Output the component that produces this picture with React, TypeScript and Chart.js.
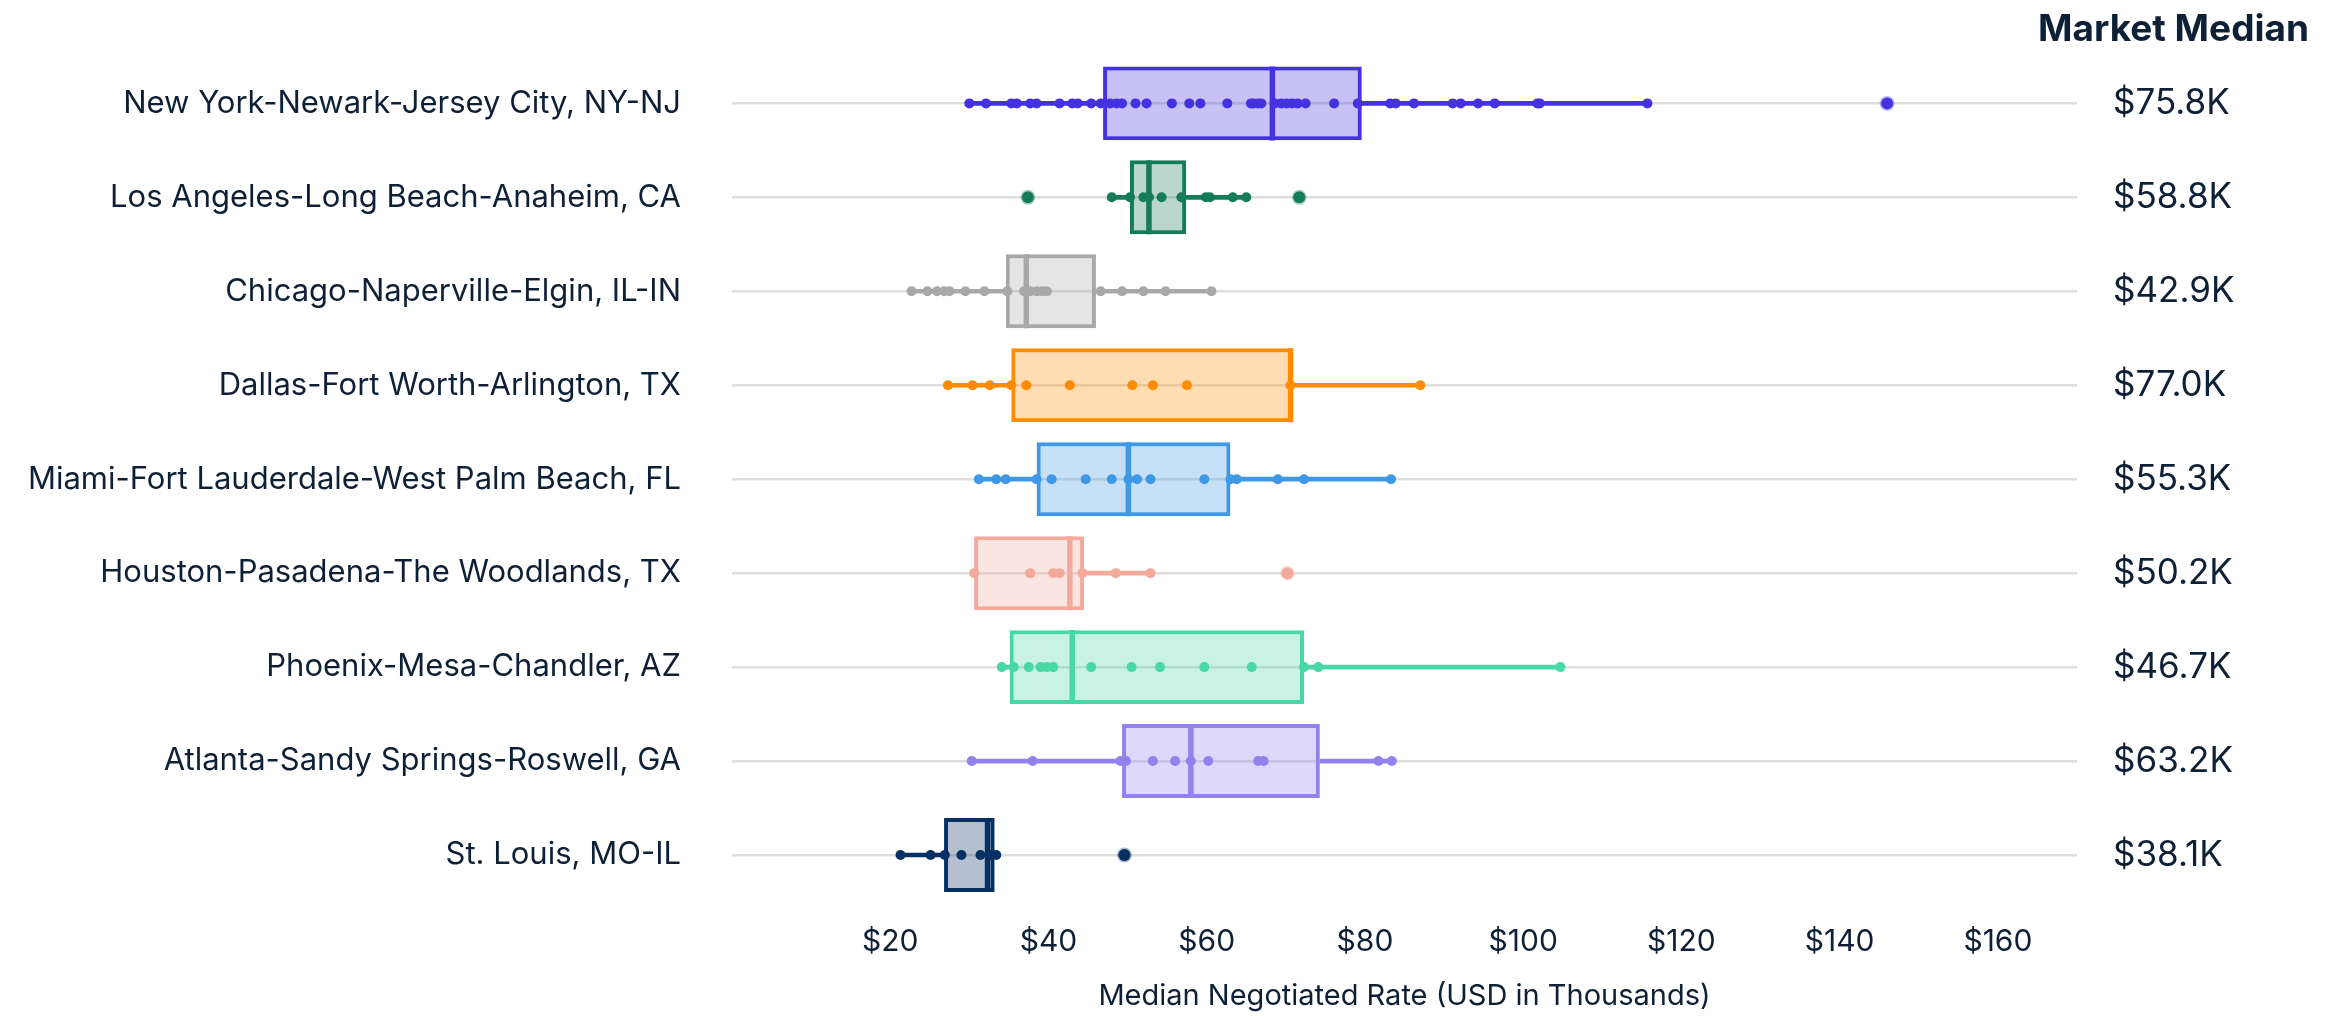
import React, { useEffect, useRef } from 'react';
import { Chart, registerables } from 'chart.js';

Chart.register(...registerables);

const categories = [
  'New York-Newark-Jersey City, NY-NJ',
  'Los Angeles-Long Beach-Anaheim, CA',
  'Chicago-Naperville-Elgin, IL-IN',
  'Dallas-Fort Worth-Arlington, TX',
  'Miami-Fort Lauderdale-West Palm Beach, FL',
  'Houston-Pasadena-The Woodlands, TX',
  'Phoenix-Mesa-Chandler, AZ',
  'Atlanta-Sandy Springs-Roswell, GA',
  'St. Louis, MO-IL',
];

const marketMedians = ['$75.8K', '$58.8K', '$42.9K', '$77.0K', '$55.3K', '$50.2K', '$46.7K', '$63.2K', '$38.1K'];

const whiskerLow = [30.0, 48.0, 22.7, 27.3, 31.2, 30.6, 34.1, 30.3, 21.3];
const q1 = [46.9, 50.3, 34.6, 35.3, 38.5, 30.6, 35.1, 49.3, 26.8];
const medians = [68.3, 52.7, 37.2, 70.6, 50.1, 42.7, 43.0, 58.0, 32.3];
const q3 = [79.6, 57.4, 46.0, 70.8, 63.0, 44.5, 72.3, 74.3, 33.2];
const whiskerHigh = [115.7, 65.0, 60.6, 87.0, 83.3, 52.9, 104.7, 83.4, 33.4];

const nyPoints = [30.0, 32.1, 35.3, 36.0, 37.7, 38.5, 41.4, 43.0, 43.7, 45.4, 46.6, 47.8, 48.6, 49.3, 51.0, 52.4, 55.6, 57.8, 59.2, 62.6, 65.6, 65.9, 66.5, 66.9, 68.6, 69.4, 70.1, 70.8, 71.5, 72.5, 76.1, 79.1, 83.2, 83.9, 86.2, 91.1, 92.1, 94.3, 96.4, 101.8, 102.1, 115.7];
const laPoints = [48.0, 50.3, 52.0, 52.7, 54.3, 56.8, 59.9, 60.4, 63.3, 65.0];
const chicagoPoints = [22.7, 24.7, 25.9, 26.8, 27.5, 29.5, 31.9, 34.8, 36.9, 37.7, 38.5, 39.2, 39.8, 46.6, 49.3, 52.0, 54.8, 60.6];
const dallasPoints = [27.3, 30.4, 32.6, 35.3, 37.2, 42.7, 50.6, 53.2, 57.5, 70.6, 87.0];
const miamiPoints = [31.2, 33.4, 34.6, 38.5, 40.4, 44.7, 48.0, 50.1, 51.2, 52.9, 59.7, 63.0, 63.8, 69.0, 72.3, 83.3];
const houstonPoints = [30.6, 37.7, 40.6, 41.4, 44.3, 48.5, 52.9];
const phoenixPoints = [34.1, 35.6, 37.5, 39.0, 39.8, 40.6, 45.4, 50.5, 54.1, 59.7, 65.7, 72.3, 74.1, 104.7];
const atlantaPoints = [30.3, 38.0, 49.1, 49.8, 53.2, 56.0, 58.0, 60.2, 66.5, 67.2, 81.7, 83.4];
const stLouisPoints = [21.3, 25.1, 26.9, 29.0, 31.4, 32.7, 33.4];

const pointsByRow = [nyPoints, laPoints, chicagoPoints, dallasPoints, miamiPoints, houstonPoints, phoenixPoints, atlantaPoints, stLouisPoints];

const nyOutliers = [146.0];
const laOutliers = [37.4, 71.7];
const chicagoOutliers: number[] = [];
const dallasOutliers: number[] = [];
const miamiOutliers: number[] = [];
const houstonOutliers = [70.2];
const phoenixOutliers: number[] = [];
const atlantaOutliers: number[] = [];
const stLouisOutliers = [49.6];

const outliersByRow = [nyOutliers, laOutliers, chicagoOutliers, dallasOutliers, miamiOutliers, houstonOutliers, phoenixOutliers, atlantaOutliers, stLouisOutliers];

const xTicks = [20, 40, 60, 80, 100, 120, 140, 160];
const xTitle = 'Median Negotiated Rate (USD in Thousands)';
const rightTitle = 'Market Median';

const lineColors = ['#4432e2', '#167c58', '#a8a8a8', '#ff8c00', '#3e98e4', '#f3aa9b', '#48d8a5', '#9282ee', '#062f62'];

function withAlpha(hex: string, a: number) {
  const r = parseInt(hex.slice(1, 3), 16);
  const g = parseInt(hex.slice(3, 5), 16);
  const b = parseInt(hex.slice(5, 7), 16);
  return `rgba(${r},${g},${b},${a})`;
}

const FONT = 'Inter, "Noto Sans", "DejaVu Sans", sans-serif';
const TEXT = '#0d2036';

const noPad = (scale: any) => {
  scale.paddingTop = 0;
  scale.paddingBottom = 0;
  scale.paddingLeft = 0;
  scale.paddingRight = 0;
};

export default function App() {
  const ref = useRef<HTMLCanvasElement>(null);

  useEffect(() => {
    if (!ref.current) return;
    const fillColors = lineColors.map((c) => withAlpha(c, 0.3));

    const pts: { x: number; y: string }[] = [];
    const ptColors: string[] = [];
    pointsByRow.forEach((arr, i) => arr.forEach((v) => { pts.push({ x: v, y: categories[i] }); ptColors.push(lineColors[i]); }));

    const outs: { x: number; y: string }[] = [];
    const outColors: string[] = [];
    const outHalo: string[] = [];
    outliersByRow.forEach((arr, i) => arr.forEach((v) => { outs.push({ x: v, y: categories[i] }); outColors.push(lineColors[i]); outHalo.push(withAlpha(lineColors[i], 0.35)); }));

    const chart = new Chart(ref.current, {
      type: 'bar',
      data: {
        labels: categories,
        datasets: [
          {
            type: 'line',
            label: 'points',
            data: pts as any,
            showLine: false,
            pointRadius: 5,
            pointBackgroundColor: ptColors,
            pointBorderWidth: 0,
            xAxisID: 'x',
            yAxisID: 'y',
            order: 0,
          } as any,
          {
            type: 'line',
            label: 'outliers',
            data: outs as any,
            showLine: false,
            pointRadius: 6,
            pointBackgroundColor: outColors,
            pointBorderColor: outHalo,
            pointBorderWidth: 3,
            xAxisID: 'x',
            yAxisID: 'y',
            order: 0,
          } as any,
          {
            type: 'line',
            label: 'median',
            data: medians.map((m, i) => ({ x: m, y: categories[i] })) as any,
            showLine: false,
            pointStyle: 'line',
            pointRotation: 90,
            pointRadius: 37,
            pointBorderWidth: 5.5,
            pointBorderColor: lineColors,
            xAxisID: 'x',
            yAxisID: 'y',
            order: 1,
          } as any,
          {
            type: 'bar',
            label: 'box',
            data: q1.map((a, i) => [a, q3[i]]) as any,
            backgroundColor: fillColors,
            borderColor: lineColors,
            borderWidth: 4,
            borderSkipped: false,
            barPercentage: 0.787,
            categoryPercentage: 1,
            grouped: false,
            xAxisID: 'x',
            yAxisID: 'y',
            order: 2,
          } as any,
          {
            type: 'bar',
            label: 'whiskerLow',
            data: whiskerLow.map((a, i) => [a, q1[i]]) as any,
            backgroundColor: lineColors,
            barThickness: 4,
            grouped: false,
            xAxisID: 'x',
            yAxisID: 'y',
            order: 3,
          } as any,
          {
            type: 'bar',
            label: 'whiskerHigh',
            data: q3.map((a, i) => [a, whiskerHigh[i]]) as any,
            backgroundColor: lineColors,
            barThickness: 4,
            grouped: false,
            xAxisID: 'x',
            yAxisID: 'y',
            order: 3,
          } as any,
        ],
      },
      options: {
        indexAxis: 'y',
        animation: false,
        responsive: true,
        maintainAspectRatio: false,
        layout: { padding: { left: 0, right: 28, top: 0, bottom: 0 } },
        plugins: {
          legend: { display: false },
          tooltip: { enabled: false },
          title: {
            display: true,
            text: rightTitle,
            align: 'end',
            position: 'top',
            color: TEXT,
            font: { family: FONT, size: 37, weight: 'bold' },
            padding: { top: 8, bottom: 4 },
          },
        },
        scales: {
          x: {
            type: 'linear',
            position: 'bottom',
            min: 0,
            max: 170,
            grid: { display: false, drawTicks: false },
            border: { display: false },
            afterBuildTicks: (scale: any) => {
              scale.ticks = xTicks.map((v) => ({ value: v }));
            },
            ticks: {
              padding: 22,
              color: TEXT,
              maxRotation: 0,
              autoSkip: false,
              font: { family: FONT, size: 30 },
              callback: (v: any) => '$' + v,
            },
            title: {
              display: true,
              text: xTitle,
              color: TEXT,
              font: { family: FONT, size: 29 },
              padding: { top: 0, bottom: 2 },
            },
            afterFit: (scale: any) => { scale.height = 114; noPad(scale); },
          },
          y: {
            type: 'category',
            position: 'left',
            offset: true,
            grid: { display: true, offset: false, color: '#dedede', lineWidth: 2.5, drawTicks: false },
            border: { display: false },
            ticks: { padding: 51, color: TEXT, font: { family: FONT, size: 31 } },
            afterFit: (scale: any) => { scale.width = 732; noPad(scale); },
          },
          y2: {
            type: 'category',
            position: 'right',
            labels: marketMedians,
            offset: true,
            grid: { display: false, drawTicks: false },
            border: { display: false },
            ticks: { padding: 36, color: TEXT, font: { family: FONT, size: 35 } },
            afterFit: (scale: any) => { scale.width = 232; noPad(scale); },
          },
        } as any,
      },
    } as any);

    return () => chart.destroy();
  }, []);

  return (
    <div style={{ position: 'fixed', left: 0, top: 0, width: '2337px', height: '1016px', background: '#fff' }}>
      <canvas ref={ref} />
    </div>
  );
}
